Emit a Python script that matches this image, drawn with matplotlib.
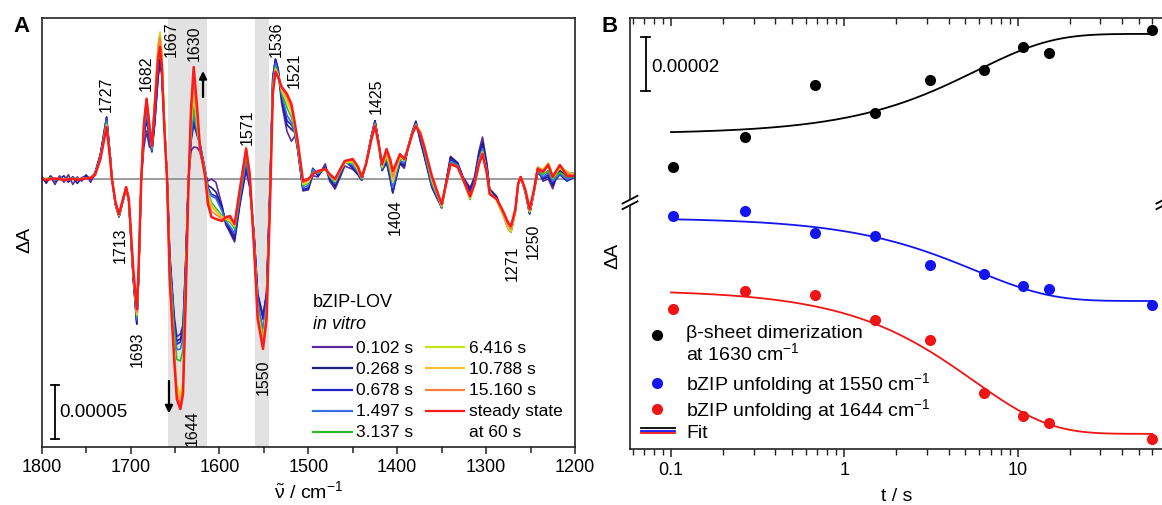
# -*- coding: utf-8 -*-
"""bZIP-LOV in vitro: espectros de diferencia rapid-scan (A) y cineticas de bandas (B)."""
import numpy as np
import matplotlib
matplotlib.use("Agg")
import matplotlib.pyplot as plt
from matplotlib.ticker import FixedLocator, FixedFormatter, MultipleLocator, NullFormatter, LogLocator

plt.rcParams['font.family'] = ['Liberation Sans', 'DejaVu Sans']
plt.rcParams['mathtext.fontset'] = 'custom'
plt.rcParams['mathtext.rm'] = 'Liberation Sans'
plt.rcParams['mathtext.it'] = 'Liberation Sans:italic'
plt.rcParams['mathtext.bf'] = 'Liberation Sans:bold'

# ---------------- datos panel A (dA en unidades de 1e-5) ----------------
wavenumber = [
    1800, 1795, 1790, 1785, 1780, 1775, 1770, 1765, 1760, 1755, 1750, 1745, 1740,
    1734, 1727, 1723, 1721, 1717, 1713, 1710, 1705, 1702, 1697,
    1693, 1691, 1688, 1685, 1682, 1679, 1676, 1673, 1669, 1667,
    1665, 1662, 1659, 1656, 1651, 1648, 1644, 1641, 1638, 1635,
    1632, 1629, 1625, 1622, 1616, 1613, 1609, 1604, 1597, 1593,
    1588, 1583, 1577, 1570, 1566, 1561, 1557, 1551, 1547, 1543,
    1540, 1537, 1534, 1530, 1524, 1519, 1515, 1512, 1506, 1500,
    1495, 1489, 1481, 1476, 1470, 1464, 1459, 1450, 1444, 1440,
    1435, 1429, 1425, 1421, 1417, 1412, 1408, 1405, 1400, 1397,
    1392, 1388, 1383, 1379, 1374, 1369, 1361, 1354, 1350, 1345,
    1340, 1332, 1326, 1318, 1313, 1308, 1304, 1299, 1296, 1288,
    1281, 1275, 1272, 1267, 1264, 1261, 1256, 1251, 1246, 1242,
    1236, 1230, 1225, 1217, 1209, 1200]

dA_t0102 = [
    0.3, -0.4, 0.2, -0.5, 0.3, -0.3, 0.4, -0.5, 0.2, -0.2, 0.4, -0.3, 0.5,
    2.2, 5.37, 2.1, 0.0, -2.35, -3.45, -2.45, -0.85, -2.05, -9.2,
    -13.43, -9.2, 0.0, 3.0, 4.44, 3.0, 2.8, 5.0, 9.5, 10.65,
    9.8, 5.0, 0.4, -6.8, -12.6, -14.6, -14.35, -13.5, -7.6, -0.2,
    2.6, 2.96, 2.9, 2.5, 0.5, -0.2, 0.0, -0.3, -2.5, -4.2,
    -5.0, -5.83, -2.4, 0.74, -0.8, -5.4, -10.8, -12.7, -10.6, -0.6,
    9.2, 10.9, 9.8, 7.0, 4.4, 3.5, 4.0, 2.7, -1.1, -1.0,
    0.3, 0.2, 1.4, -0.2, -0.93, 0.2, 1.2, 0.9, 0.4, -0.1,
    1.4, 4.0, 5.4, 3.5, 0.8, 1.5, 0.0, -1.2, 0.5, 1.4,
    1.0, 2.9, 4.4, 5.37, 3.5, 1.9, -0.8, -2.0, -2.5, -0.2,
    2.1, 1.5, 0.2, -0.8, 0.2, 2.6, 3.89, 1.4, -0.9, -1.6,
    -3.3, -4.6, -4.9, -3.0, -0.5, 0.2, -1.2, -3.24, -1.2, 1.0,
    -0.2, 0.0, -0.9, 1.2, 0.6, 0.5]

dA_t0268 = [
    0.2, -0.3, 0.3, -0.2, 0.0, 0.3, -0.3, 0.2, -0.4, 0.1, 0.3, 0.0, 0.6,
    2.3, 5.74, 2.2, 0.0, -2.4, -3.5, -2.5, -0.85, -2.05, -9.2,
    -13.43, -9.2, 0.0, 3.8, 5.56, 3.8, 2.6, 5.2, 9.8, 11.1,
    10.0, 5.0, 0.3, -7.0, -13.0, -15.0, -14.8, -13.9, -7.8, -0.2,
    3.5, 5.09, 4.0, 3.3, 0.6, -0.6, -0.8, -1.2, -2.6, -4.0,
    -4.8, -5.6, -2.2, 1.2, -0.5, -5.2, -10.6, -12.7, -10.6, -0.5,
    9.4, 11.1, 10.2, 7.4, 5.0, 4.6, 4.3, 2.8, -1.0, -0.9,
    0.9, 0.3, 1.1, 0.0, -0.7, 0.4, 1.7, 1.0, 0.4, -0.1,
    1.5, 4.0, 5.4, 3.5, 0.8, 1.6, 0.1, -1.3, 0.5, 1.5,
    1.2, 2.9, 4.4, 5.3, 3.6, 2.0, -0.7, -1.9, -2.6, -0.3,
    2.0, 1.5, 0.1, -1.0, 0.0, 2.3, 3.4, 1.2, -1.0, -1.7,
    -3.2, -4.5, -4.8, -2.9, -0.5, 0.2, -1.15, -3.2, -1.15, 0.9,
    0.0, 0.2, -0.6, 0.8, 0.2, 0.3]

dA_t0678 = [
    0.1, -0.1, 0.2, -0.1, 0.1, 0.0, -0.2, 0.2, -0.1, 0.1, 0.2, 0.1, 0.5,
    2.2, 5.74, 2.2, 0.0, -2.4, -3.5, -2.5, -0.85, -2.05, -9.1,
    -13.24, -9.1, 0.0, 4.0, 5.83, 4.0, 2.5, 5.0, 9.5, 10.65,
    9.8, 5.0, 0.3, -7.2, -13.2, -15.3, -15.09, -14.2, -8.0, -0.2,
    3.7, 5.37, 4.2, 3.3, 0.8, -0.8, -1.4, -1.6, -2.8, -4.0,
    -4.6, -5.3, -2.0, 1.39, -0.4, -5.3, -10.8, -13.0, -10.8, -0.6,
    9.4, 11.1, 10.2, 7.6, 5.4, 5.0, 4.3, 2.9, -1.0, -0.8,
    1.0, 0.4, 1.1, 0.1, -0.5, 0.6, 1.7, 1.1, 0.5, -0.1,
    1.5, 4.0, 5.37, 3.5, 0.8, 1.8, 0.3, -1.2, 0.6, 1.6,
    1.3, 2.85, 4.4, 5.2, 3.8, 2.1, -0.6, -1.9, -2.69, -0.3,
    1.8, 1.4, 0.1, -1.2, -0.1, 2.1, 3.06, 1.0, -1.1, -1.8,
    -3.2, -4.5, -4.8, -2.9, -0.5, 0.2, -1.15, -3.2, -1.15, 0.6,
    0.1, 0.4, -0.4, 0.4, -0.2, 0.2]

dA_t1497 = [
    0.1, 0.0, 0.1, -0.1, 0.1, 0.0, -0.1, 0.1, 0.0, 0.0, 0.1, 0.1, 0.5,
    2.1, 5.46, 2.1, 0.0, -2.35, -3.45, -2.45, -0.8, -2.0, -9.0,
    -13.06, -9.0, 0.0, 4.3, 6.3, 4.3, 2.7, 6.0, 11.0, 12.04,
    10.6, 5.0, 0.0, -7.4, -13.6, -15.8, -15.74, -14.8, -8.3, -0.3,
    4.0, 6.0, 4.3, 3.2, 0.8, -0.9, -1.6, -1.8, -3.0, -3.9,
    -4.4, -5.0, -1.8, 1.67, -0.2, -5.6, -11.4, -13.9, -11.4, -0.9,
    9.0, 10.7, 9.9, 7.8, 5.9, 5.2, 4.2, 2.9, -0.8, -0.6,
    0.9, 0.5, 1.0, 0.2, -0.4, 0.6, 1.6, 1.3, 0.6, 0.0,
    1.5, 3.9, 5.2, 3.45, 0.9, 1.9, 0.5, -0.8, 0.8, 1.7,
    1.5, 2.8, 4.35, 5.1, 4.0, 2.3, -0.5, -1.8, -2.7, -0.35,
    1.6, 1.3, 0.0, -1.5, -0.3, 1.9, 2.8, 0.8, -1.2, -1.9,
    -3.2, -4.5, -4.8, -2.9, -0.5, 0.2, -1.1, -3.1, -1.1, 0.7,
    0.2, 0.6, -0.2, 0.5, 0.0, 0.2]

dA_t3137 = [
    0.0, 0.0, 0.1, 0.0, 0.0, -0.1, 0.0, 0.1, 0.0, 0.0, 0.1, 0.1, 0.45,
    2.0, 5.19, 2.05, 0.0, -2.3, -3.4, -2.4, -0.8, -2.0, -8.8,
    -12.78, -8.8, 0.0, 4.9, 7.13, 4.9, 2.9, 6.8, 12.0, 12.96,
    11.5, 5.2, 0.0, -7.8, -14.2, -16.7, -16.85, -15.8, -8.8, -0.4,
    4.5, 6.76, 4.4, 3.0, 0.6, -1.2, -2.2, -2.7, -3.4, -3.8,
    -4.0, -4.6, -1.4, 2.13, 0.1, -5.9, -12.0, -14.5, -12.0, -1.3,
    8.5, 10.4, 9.7, 8.0, 6.6, 5.7, 4.4, 3.0, -0.6, -0.4,
    0.6, 0.6, 0.9, 0.3, -0.3, 0.7, 1.5, 1.5, 0.7, 0.0,
    1.45, 3.85, 5.1, 3.4, 1.0, 2.1, 0.8, -0.19, 1.0, 1.9,
    1.7, 2.8, 4.3, 5.0, 4.2, 2.5, -0.3, -1.7, -2.6, -0.4,
    1.5, 1.2, -0.1, -1.9, -0.4, 1.6, 2.6, 0.6, -1.1, -2.0,
    -3.3, -4.6, -4.9, -3.0, -0.5, 0.2, -1.1, -3.1, -1.1, 0.8,
    0.4, 0.8, 0.0, 0.6, 0.2, 0.2]

dA_t6416 = [
    0.0, 0.05, 0.0, 0.05, 0.0, -0.05, 0.05, 0.0, 0.0, 0.05, 0.1, 0.1, 0.4,
    1.95, 5.0, 2.0, 0.0, -2.25, -3.35, -2.4, -0.8, -1.95, -8.7,
    -12.6, -8.7, 0.0, 5.0, 7.3, 5.0, 3.0, 7.2, 12.6, 13.6,
    12.0, 5.4, 0.0, -8.7, -15.8, -19.0, -20.0, -18.6, -10.3, -0.7,
    5.0, 7.9, 5.0, 2.8, 0.5, -1.4, -2.4, -2.9, -3.5, -3.7,
    -3.9, -4.4, -1.1, 2.7, 0.4, -6.1, -12.3, -14.9, -12.3, -1.5,
    8.3, 10.2, 9.6, 8.2, 7.1, 6.2, 4.7, 3.2, -0.5, -0.3,
    0.5, 0.7, 0.9, 0.35, -0.2, 0.8, 1.5, 1.6, 0.8, 0.1,
    1.4, 3.8, 5.0, 3.4, 1.1, 2.2, 1.1, -0.3, 1.2, 2.0,
    1.7, 2.8, 4.3, 5.0, 4.3, 2.7, -0.1, -1.6, -2.5, -0.5,
    1.4, 1.1, -0.1, -1.8, -0.5, 1.5, 2.5, 0.5, -1.2, -2.0,
    -3.3, -4.6, -4.9, -3.0, -0.5, 0.2, -1.1, -3.0, -1.1, 1.0,
    0.7, 1.2, 0.1, 1.0, 0.4, 0.3]

dA_t10788 = [
    0.05, 0.0, 0.05, 0.0, -0.05, 0.05, 0.0, 0.0, 0.05, 0.0, 0.1, 0.15, 0.4,
    1.9, 5.0, 1.95, 0.0, -2.25, -3.35, -2.4, -0.8, -1.95, -8.6,
    -12.5, -8.6, 0.0, 5.1, 7.4, 5.1, 3.0, 7.0, 12.3, 13.3,
    11.8, 5.2, 0.0, -8.8, -15.8, -19.2, -20.37, -19.0, -10.5, -0.8,
    5.2, 8.1, 5.2, 2.8, 0.4, -1.6, -2.6, -3.0, -3.6, -3.7,
    -3.8, -4.3, -1.0, 2.8, 0.5, -6.2, -12.4, -15.0, -12.4, -1.6,
    8.2, 10.2, 9.6, 8.3, 7.3, 6.4, 4.8, 3.3, -0.4, -0.2,
    0.5, 0.7, 0.9, 0.4, -0.1, 0.8, 1.6, 1.7, 0.9, 0.1,
    1.4, 3.8, 5.0, 3.35, 1.2, 2.3, 1.3, -0.1, 1.3, 2.1,
    1.8, 2.8, 4.25, 5.0, 4.4, 2.9, 0.0, -1.6, -2.5, -0.5,
    1.4, 1.1, 0.0, -1.8, -0.5, 1.5, 2.5, 0.5, -1.3, -2.0,
    -3.2, -4.5, -4.8, -3.0, -0.5, 0.2, -1.05, -3.0, -1.05, 1.1,
    0.9, 1.5, 0.3, 1.2, 0.7, 0.4]

dA_t15160 = [
    0.0, 0.05, 0.0, -0.05, 0.05, 0.0, -0.05, 0.05, 0.0, 0.0, 0.1, 0.15, 0.4,
    1.9, 4.91, 1.9, 0.0, -2.2, -3.3, -2.35, -0.75, -1.9, -8.5,
    -12.31, -8.5, 0.0, 5.2, 7.5, 5.2, 3.1, 6.8, 12.0, 13.15,
    11.6, 5.0, 0.0, -9.0, -16.2, -19.8, -20.8, -19.4, -10.8, -0.9,
    5.6, 8.8, 5.6, 2.8, 0.3, -1.9, -3.0, -3.3, -3.7, -3.6,
    -3.6, -4.2, -0.9, 2.96, 0.6, -6.3, -12.6, -15.3, -12.6, -1.7,
    8.0, 10.0, 9.5, 8.4, 7.6, 6.6, 4.9, 3.4, -0.3, -0.1,
    0.5, 0.7, 0.9, 0.4, -0.1, 0.9, 1.6, 1.8, 1.0, 0.15,
    1.4, 3.75, 5.0, 3.3, 1.3, 2.5, 1.5, 0.2, 1.5, 2.2,
    1.8, 2.75, 4.2, 4.9, 4.4, 3.0, 0.1, -1.5, -2.4, -0.5,
    1.4, 1.1, 0.0, -1.7, -0.5, 1.4, 2.4, 0.5, -1.3, -1.9,
    -3.1, -4.3, -4.6, -2.9, -0.5, 0.2, -1.0, -2.9, -1.0, 1.1,
    0.8, 1.4, 0.3, 1.3, 0.5, 0.3]

dA_steady = [
    0.0, -0.1, 0.0, 0.05, 0.0, -0.1, 0.0, 0.0, -0.05, 0.0, 0.05, 0.1, 0.37,
    1.85, 4.81, 1.85, 0.0, -2.13, -3.24, -2.31, -0.74, -1.85, -8.33,
    -12.04, -8.33, 0.0, 5.09, 7.41, 5.09, 3.06, 6.48, 11.11, 12.22,
    10.65, 4.63, 0.0, -9.26, -16.67, -20.37, -21.30, -19.91, -11.11, -0.93,
    6.48, 10.37, 6.48, 2.96, 0.19, -2.31, -3.52, -3.70, -3.89, -3.52,
    -3.43, -4.17, -0.93, 2.78, 0.46, -6.48, -12.96, -15.74, -12.96, -1.85,
    7.87, 9.91, 9.44, 8.52, 7.87, 6.94, 5.09, 3.52, -0.19, 0.0,
    0.46, 0.74, 0.93, 0.46, 0.0, 0.93, 1.67, 1.85, 1.11, 0.19,
    1.39, 3.70, 4.91, 3.24, 1.39, 2.78, 1.85, 0.74, 1.67, 2.31,
    1.85, 2.78, 4.17, 4.91, 4.17, 2.78, 0.28, -1.39, -2.31, -0.46,
    1.39, 1.11, 0.0, -1.57, -0.46, 1.39, 2.31, 0.46, -1.39, -1.85,
    -2.96, -4.07, -4.35, -2.78, -0.46, 0.19, -0.93, -2.78, -0.93, 0.93,
    0.65, 1.30, 0.19, 1.30, 0.28, 0.28]

spectra = [dA_t0102, dA_t0268, dA_t0678, dA_t1497, dA_t3137,
           dA_t6416, dA_t10788, dA_t15160, dA_steady]
spec_labels = ['0.102 s', '0.268 s', '0.678 s', '1.497 s', '3.137 s',
               '6.416 s', '10.788 s', '15.160 s', 'steady state']
peak_labels = ['1727', '1713', '1693', '1682', '1667', '1630', '1644', '1571',
               '1550', '1536', '1521', '1425', '1404', '1271', '1250']
bands = [(1614, 1658), (1544, 1560)]

# ---------------- datos panel B (dA en 1e-5, con desplazamiento) ----------------
t_s = [0.102, 0.268, 0.678, 1.497, 3.137, 6.416, 10.788, 15.160, 60.0]
dA_1630 = [10.44, 11.56, 13.48, 12.44, 13.67, 14.04, 14.89, 14.67, 15.52]
dA_1550 = [8.63, 8.81, 8.00, 7.89, 6.81, 6.48, 6.04, 5.93, 5.33]
dA_1644 = [5.19, 5.85, 5.70, 4.78, 4.04, 2.07, 1.22, 0.96, 0.37]
# ajuste monoexponencial: (y0, y_inf, tau en s)
fit_1630 = (11.67, 15.37, 5.8)
fit_1550 = (8.56, 5.48, 5.7)
fit_1644 = (5.89, 0.56, 5.6)

for s in spectra:
    assert len(s) == len(wavenumber)

spec_colors = ['#5b2a9e', '#1c1c84', '#2323c8', '#3b6ee6', '#2eb82e',
               '#c2e41a', '#f2c12e', '#ff7f3f', '#ff1a1a']
peak_pos = [(1727.6, 7.9), (1711.9, -6.0), (1692.8, -15.7), (1682.7, 9.9),
            (1654.5, 13.0), (1628.6, 12.7), (1630.9, -23.0), (1569.0, 4.9),
            (1551.0, -18.3), (1536.4, 13.0), (1516.2, 10.2), (1423.9, 7.8),
            (1402.5, -3.4), (1270.9, -7.7), (1247.3, -5.7)]
SPINE = '#222222'

fig = plt.figure(figsize=(11.62, 5.06), dpi=100)

# ======================= panel A =======================
axA = fig.add_axes([0.0359, 0.1146, 0.4589, 0.8479])
axA.set_xlim(1800, 1200)
axA.set_ylim(-24.81, 14.91)
for lo, hi in bands:
    axA.axvspan(lo, hi, color='#e2e2e2', lw=0, zorder=0)
axA.axhline(0, color='#8c8c8c', lw=1.2, zorder=1)
for vals, col in zip(spectra, spec_colors):
    lw = 1.8 if col == spec_colors[-1] else 1.2
    axA.plot(wavenumber, vals, color=col, lw=lw, zorder=2)

for s, (x, y) in zip(peak_labels, peak_pos):
    axA.text(x, y, s, rotation=90, ha='center', va='center', fontsize=11.5, zorder=4)

arrow = dict(arrowstyle='-|>', color='k', lw=1.6, mutation_scale=11, shrinkA=0, shrinkB=0)
axA.annotate('', xy=(1618.5, 10.0), xytext=(1618.5, 7.6), arrowprops=arrow, zorder=5)
axA.annotate('', xy=(1656.8, -21.7), xytext=(1656.8, -18.7), arrowprops=arrow, zorder=5)

# barra de escala 0.00005
axA.plot([1785, 1785], [-24.07, -19.07], color='k', lw=1.3)
for yy in (-24.07, -19.07):
    axA.plot([1780, 1790], [yy, yy], color='k', lw=1.3)
axA.text(1780.5, -21.5, '0.00005', ha='left', va='center', fontsize=13.5)

# leyenda manual
lx0, lx1, ltx = 0.5087, 0.5818, 0.5893
rx0, rx1, rtx = 0.7206, 0.7919, 0.8012
rows = [0.233, 0.184, 0.133, 0.084, 0.035]
axA.text(lx0, 0.338, 'bZIP-LOV', transform=axA.transAxes, ha='left', va='center', fontsize=13)
axA.text(lx0, 0.289, 'in vitro', transform=axA.transAxes, ha='left', va='center',
         fontsize=13, style='italic')
for i, (lab, col) in enumerate(zip(spec_labels, spec_colors)):
    if i < 5:
        x0, x1, tx, yy = lx0, lx1, ltx, rows[i]
    else:
        x0, x1, tx, yy = rx0, rx1, rtx, rows[i - 5]
    axA.plot([x0, x1], [yy, yy], color=col, lw=1.6, transform=axA.transAxes)
    axA.text(tx, yy, lab, transform=axA.transAxes, ha='left', va='center', fontsize=12.5)
axA.text(rtx, rows[4], 'at 60 s', transform=axA.transAxes, ha='left', va='center', fontsize=12.5)

axA.xaxis.set_major_locator(FixedLocator(list(range(1800, 1199, -100))))
axA.xaxis.set_minor_locator(MultipleLocator(50))
axA.tick_params(axis='x', which='major', direction='out', length=5, width=1.1,
                labelsize=13, pad=3, color=SPINE)
axA.tick_params(axis='x', which='minor', direction='out', length=4, width=1.1, color=SPINE)
axA.set_yticks([])
for sp in axA.spines.values():
    sp.set_color(SPINE)
    sp.set_linewidth(1.2)
axA.set_xlabel(r'$\tilde{\mathrm{\nu}}$ / cm$^{-1}$', fontsize=14)
axA.xaxis.set_label_coords(0.5, -0.075)
axA.set_ylabel('ΔA', fontsize=14)
axA.yaxis.set_label_coords(-0.016, 0.485)

# ======================= panel B =======================
axB = fig.add_axes([0.5422, 0.1107, 0.4595, 0.8518])
axB.set_xscale('log')
axB.set_xlim(0.058, 70)
axB.set_ylim(0, 15.96)

t_fit = np.logspace(-1, np.log10(60), 300)
for pts, (y0, yinf, tau), col in ((dA_1630, fit_1630, 'k'),
                                 (dA_1550, fit_1550, '#1414f0'),
                                 (dA_1644, fit_1644, '#f01414')):
    axB.plot(t_fit, yinf + (y0 - yinf) * np.exp(-t_fit / tau), color=col, lw=1.3, zorder=2)
    axB.plot(t_s, pts, 'o', color=col, ms=8, mec='none', zorder=3)

# barra de escala 0.00002
tb = 0.0717
axB.plot([tb, tb], [13.26, 15.26], color='k', lw=1.3)
for yy in (13.26, 15.26):
    axB.plot([tb * 10 ** -0.026, tb * 10 ** 0.026], [yy, yy], color='k', lw=1.3)
axB.text(0.0767, 14.15, '0.00002', ha='left', va='center', fontsize=13.5)

# leyenda manual
mx, tx = 0.0506, 0.1049
for yy, col in ((0.264, 'k'), (0.153, '#1414f0'), (0.093, '#f01414')):
    axB.plot([mx], [yy], 'o', color=col, ms=8, mec='none', transform=axB.transAxes)
axB.text(tx, 0.244, 'β-sheet dimerization\nat 1630 cm$^{-1}$', transform=axB.transAxes,
         va='center', ha='left', fontsize=14, linespacing=1.0)
axB.text(tx, 0.153, 'bZIP unfolding at 1550 cm$^{-1}$', transform=axB.transAxes,
         va='center', fontsize=14)
axB.text(tx, 0.093, 'bZIP unfolding at 1644 cm$^{-1}$', transform=axB.transAxes,
         va='center', fontsize=14)
for yy, col in ((0.0476, 'k'), (0.0418, '#1414f0'), (0.0360, '#f01414')):
    axB.plot([0.0206, 0.0843], [yy, yy], color=col, lw=1.3, transform=axB.transAxes)
axB.text(tx, 0.038, 'Fit', transform=axB.transAxes, va='center', fontsize=14)

axB.xaxis.set_major_locator(FixedLocator([0.1, 1, 10]))
axB.xaxis.set_major_formatter(FixedFormatter(['0.1', '1', '10']))
axB.xaxis.set_minor_locator(LogLocator(base=10, subs=np.arange(2, 10)))
axB.xaxis.set_minor_formatter(NullFormatter())
axB.tick_params(axis='x', which='major', direction='out', length=6, width=1.1,
                labelsize=13, pad=3, color=SPINE)
axB.tick_params(axis='x', which='minor', direction='out', length=4, width=1.0, color=SPINE)
axB.set_yticks([])
for sp in axB.spines.values():
    sp.set_color(SPINE)
    sp.set_linewidth(1.2)

axT = axB.twiny()
axT.set_xscale('log')
axT.set_xlim(axB.get_xlim())
axT.xaxis.set_major_locator(FixedLocator([0.1, 1, 10]))
axT.xaxis.set_minor_locator(LogLocator(base=10, subs=np.arange(2, 10)))
axT.xaxis.set_major_formatter(NullFormatter())
axT.xaxis.set_minor_formatter(NullFormatter())
axT.tick_params(axis='x', which='major', direction='in', length=6, width=1.1, color=SPINE)
axT.tick_params(axis='x', which='minor', direction='in', length=4, width=1.0, color=SPINE)
for sp in axT.spines.values():
    sp.set_visible(False)

axB.set_xlabel('t / s', fontsize=14)
axB.xaxis.set_label_coords(0.5, -0.088)
axB.set_ylabel('ΔA', fontsize=14)
axB.yaxis.set_label_coords(-0.017, 0.45)

# marcas de corte del eje Y
for xs in (0.0, 1.0):
    yb = 0.572
    dx, dy, gap = 0.014, 0.009, 0.013
    axB.fill([xs - dx, xs + dx, xs + dx, xs - dx],
             [yb - dy - gap / 2, yb + dy - gap / 2, yb + dy + gap / 2, yb - dy + gap / 2],
             color='white', transform=axB.transAxes, clip_on=False, zorder=6)
    for off in (-gap / 2, gap / 2):
        axB.plot([xs - dx, xs + dx], [yb - dy + off, yb + dy + off], color='k', lw=1.3,
                 transform=axB.transAxes, clip_on=False, zorder=7)

fig.text(21 / 1162, 1 - 27 / 506, 'A', fontsize=16, fontweight='bold', ha='center', va='center')
fig.text(610 / 1162, 1 - 26 / 506, 'B', fontsize=16, fontweight='bold', ha='center', va='center')

fig.savefig('out.png', dpi=100, facecolor='white')
